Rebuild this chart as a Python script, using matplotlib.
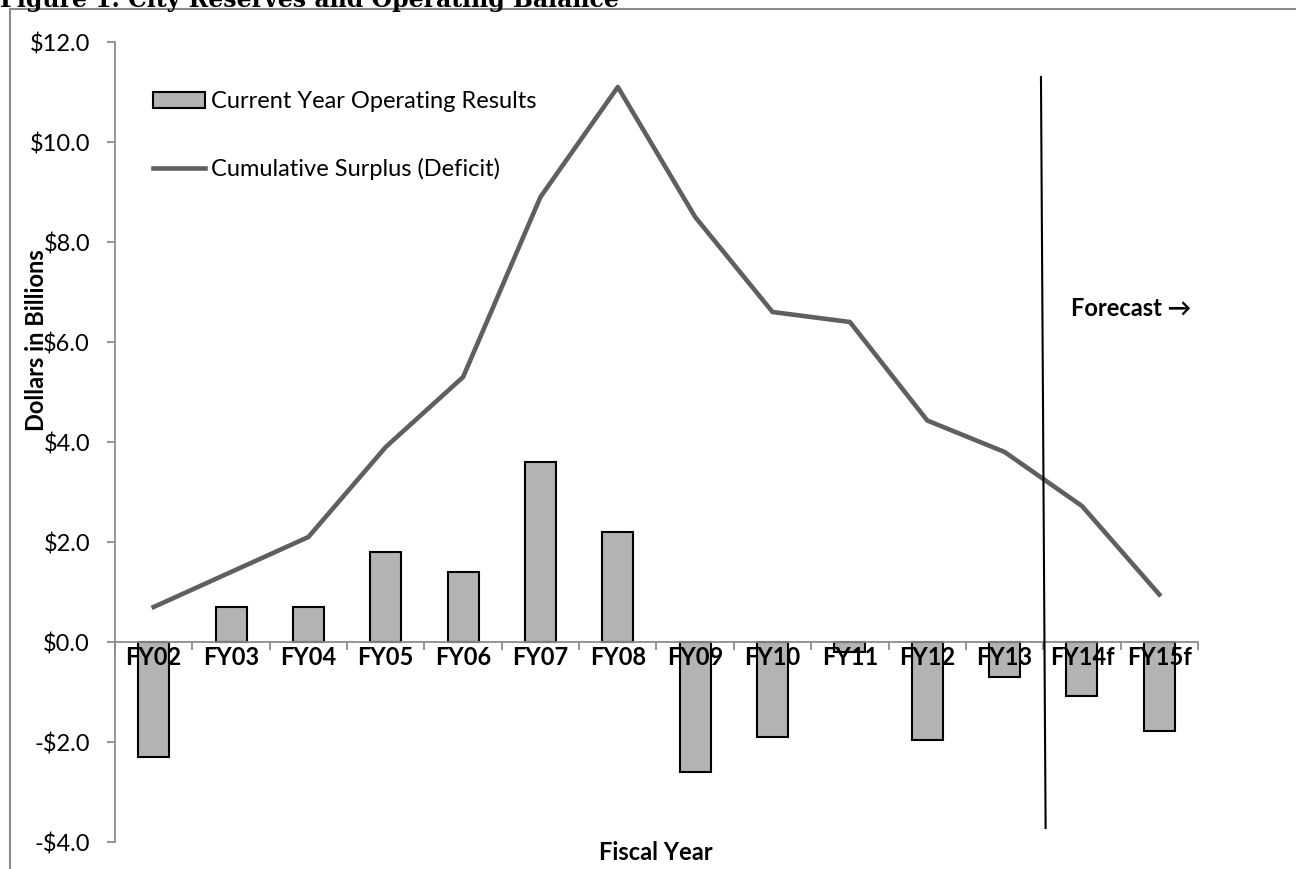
import numpy as np
import matplotlib.pyplot as plt
from matplotlib.lines import Line2D

# values (billions of dollars)
years = ['FY02', 'FY03', 'FY04', 'FY05', 'FY06', 'FY07', 'FY08',
         'FY09', 'FY10', 'FY11', 'FY12', 'FY13', 'FY14f', 'FY15f']
operating = [-2.3, 0.7, 0.7, 1.8, 1.4, 3.6, 2.2,
             -2.6, -1.9, -0.2, -1.95, -0.7, -1.07, -1.77]
cumulative = [0.7, 1.4, 2.1, 3.9, 5.3, 8.9, 11.1,
              8.5, 6.6, 6.4, 4.43, 3.8, 2.72, 0.95]
y_ticks = [-4, -2, 0, 2, 4, 6, 8, 10, 12]

W, H = 1296, 869
font = ['Lato', 'DejaVu Sans']
plt.rcParams['font.family'] = font
fs = 17

fig = plt.figure(figsize=(W / 100, H / 100), dpi=100)
ax = fig.add_axes([115 / W, 1 - 842 / H, (1198 - 115) / W, 800 / H])

x = np.arange(len(years))
bars = ax.bar(x, operating, width=0.4, color='#b3b3b3', edgecolor='black',
              linewidth=1.5, label='Current Year Operating Results', zorder=1)
line, = ax.plot(x, cumulative, color='#5f5f5f', linewidth=3.3,
                label='Cumulative Surplus (Deficit)', zorder=2)

ax.set_xlim(-0.5, len(years) - 0.5)
ax.set_ylim(-4, 12)

gray = '#8c8c8c'
for s in ['top', 'right']:
    ax.spines[s].set_visible(False)
ax.spines['left'].set_color(gray)
ax.spines['left'].set_linewidth(1.3)
ax.spines['bottom'].set_position(('data', 0))
ax.spines['bottom'].set_color(gray)
ax.spines['bottom'].set_linewidth(1.3)

ax.set_yticks(y_ticks)
ax.set_yticklabels([('-$%.1f' % -v) if v < 0 else ('$%.1f' % v) for v in y_ticks],
                   fontsize=fs)
ax.tick_params(axis='y', direction='out', length=6, width=1.3, color=gray, pad=12)

ax.set_xticks(x)
ax.set_xticklabels(years, fontsize=fs, fontweight='bold')
ax.set_xticks(np.arange(len(years) + 1) - 0.5, minor=True)
ax.tick_params(axis='x', which='major', length=0, pad=3)
ax.tick_params(axis='x', which='minor', direction='out', length=6, width=1.3, color=gray)

ax.set_ylabel('Dollars in Billions', fontsize=fs, fontweight='bold')
ax.yaxis.set_label_coords(-0.062, 0.6275)
fig.text(656 / W, 1 - 853 / H, 'Fiscal Year', fontsize=fs, fontweight='bold',
         ha='center', va='center')

# forecast divider
ax.plot([11.47, 11.53], [11.3, -3.72], color='black', linewidth=1.5, zorder=3)
ax.text(11.86, 6.68, 'Forecast \u2192', fontsize=fs, fontweight='bold',
        ha='left', va='center', family=font)

ax.legend(handles=[bars, line], loc='upper left', bbox_to_anchor=(153 / W, 1 - 91 / H),
          bbox_transform=fig.transFigure, frameon=False, fontsize=fs,
          handlelength=2.2, handleheight=0.65, handletextpad=0.25, labelspacing=1.95,
          borderaxespad=0, borderpad=0)

# title and border
fig.text(0.0, 1 - 7 / H, 'Figure 1. City Reserves and Operating Balance',
         fontsize=17, fontweight='bold', family='DejaVu Serif', ha='left', va='baseline')
fig.add_artist(Line2D([10 / W, 1], [1 - 9 / H, 1 - 9 / H], color=gray, linewidth=1.5))
fig.add_artist(Line2D([10 / W, 10 / W], [0, 1 - 9 / H], color=gray, linewidth=1.5))

fig.savefig('out.png', dpi=100)
